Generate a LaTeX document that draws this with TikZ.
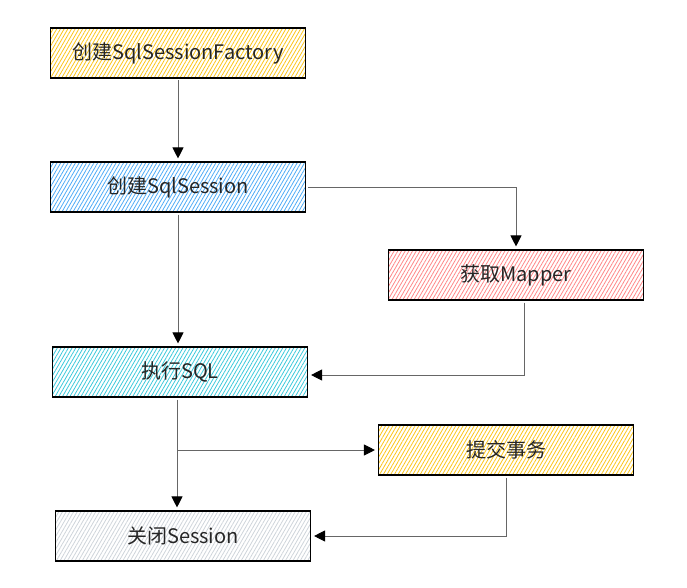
\documentclass[tikz,border=0pt]{standalone}
\usepackage{fontspec}
\setmainfont{Noto Sans CJK SC}
\usetikzlibrary{arrows.meta,patterns.meta}

\definecolor{hyellow}{HTML}{FCC419}
\definecolor{hblue}{HTML}{4DABF7}
\definecolor{hred}{HTML}{FF8787}
\definecolor{hcyan}{HTML}{3BC9DB}
\definecolor{hgray}{HTML}{CED4DA}

\begin{document}
\begin{tikzpicture}[x=1pt, y=-1pt,
	box/.style={draw=black, line width=1.1pt, minimum width=255pt, minimum height=50pt, inner sep=0pt, font=\fontsize{20}{20}\selectfont, text=black!85},
	hatch/.style={pattern={Lines[angle=60, distance=3.2pt, line width=0.8pt]}, pattern color=#1},
	link/.style={draw=black!60, line width=0.9pt, -{Triangle[length=11pt, width=11pt, color=black]}, shorten >=3pt, shorten <=2pt}]
	\useasboundingbox (0,0) rectangle (687,588);

	\node[box, hatch=hyellow] (f) at (178,53) {创建SqlSessionFactory};
	\node[box, hatch=hblue] (s) at (178,187) {创建SqlSession};
	\node[box, hatch=hred] (m) at (516,275) {获取Mapper};
	\node[box, hatch=hcyan] (e) at (180,372) {执行SQL};
	\node[box, hatch=hyellow] (t) at (506,450) {提交事务};
	\node[box, hatch=hgray] (c) at (183,536) {关闭Session};

	\draw[link] (f) -- (s);
	\draw[link] (s.east) -| (m.north);
	\draw[link] (s.south) -- (s.south |- e.north);
	\draw[link] ([xshift=8pt]m.south) |- ([yshift=-3pt]e.east);
	\draw[link] ([xshift=-3pt]e.south) -- ([xshift=-3pt]e.south |- c.north);
	\draw[link, shorten <=0pt] ([xshift=-3pt]e.south |- t.west) -- (t.west);
	\draw[link] (t.south) |- (c.east);
\end{tikzpicture}
\end{document}
